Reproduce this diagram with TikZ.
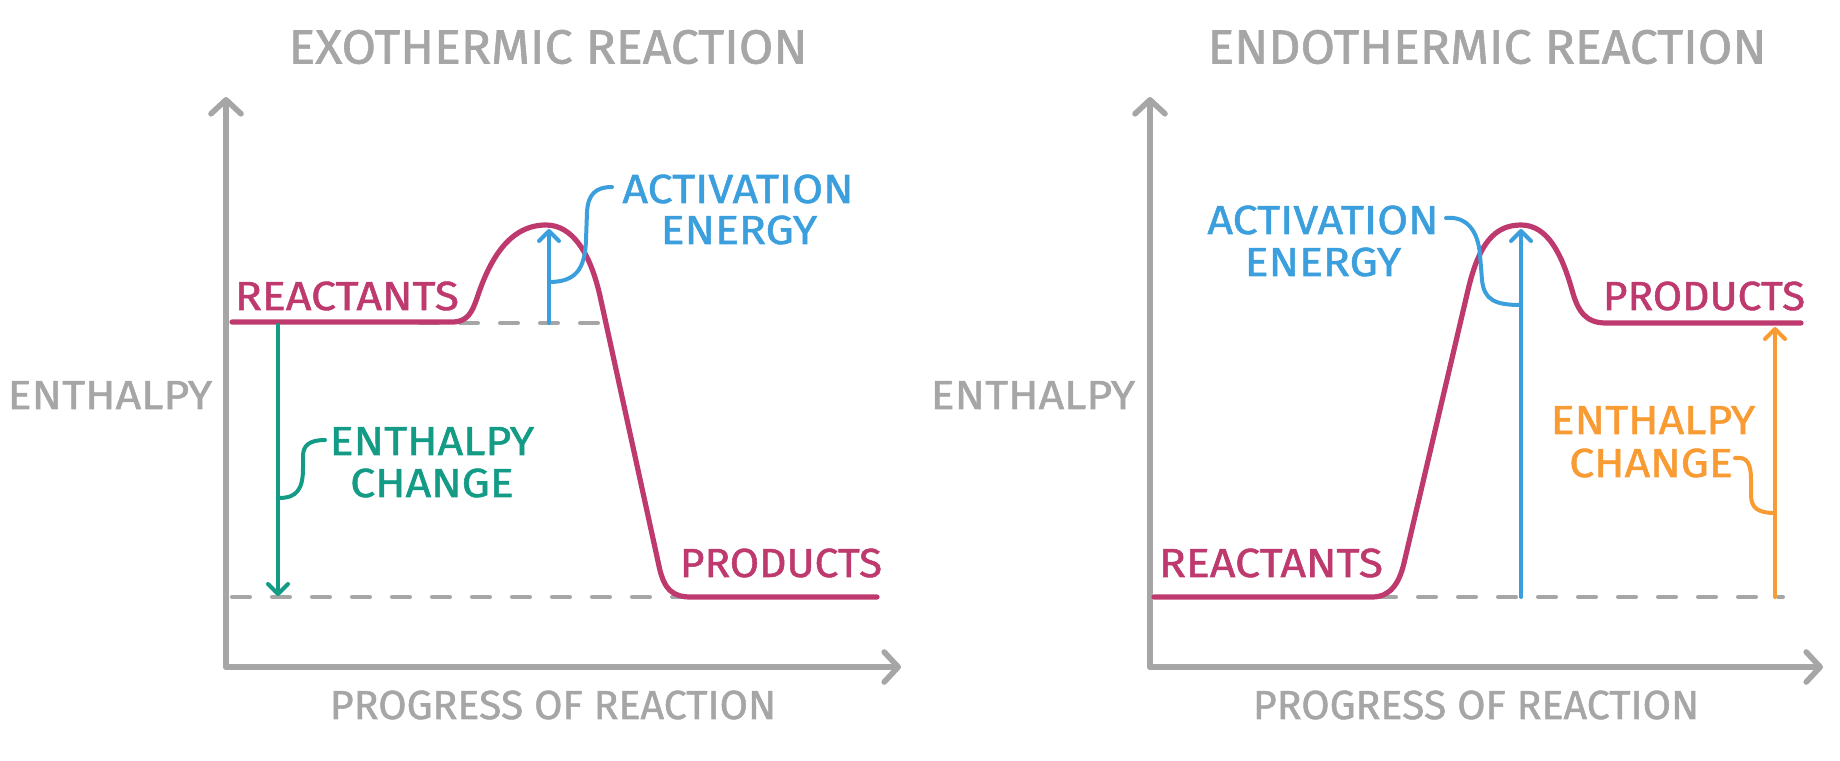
\documentclass[tikz,border=0pt]{standalone}
\usepackage{graphicx}
\usepackage{fontspec}
\setmainfont{Fira Sans}[FakeStretch=1.1, FakeBold=1.3]
\newfontfamily\titlefont{Fira Sans}[FakeStretch=1.04, FakeBold=1.3]
\usetikzlibrary{arrows.meta,bending}
\definecolor{axisgray}{HTML}{A6A6A6}
\definecolor{mag}{HTML}{BE3A6E}
\definecolor{aeblue}{HTML}{3A9FDC}
\definecolor{ehgreen}{HTML}{149B86}
\definecolor{ehorange}{HTML}{F89B33}
\begin{document}
\begin{tikzpicture}[x=0.5pt,y=-0.5pt,
  lbl/.style={inner sep=0pt, font=\fontsize{20.3}{22}\selectfont},
  ttl/.style={inner sep=0pt, text=axisgray, font=\titlefont\fontsize{24}{26}\selectfont},
  axislbl/.style={lbl, text=axisgray},
  curve/.style={draw=mag, line width=2.6pt, line cap=round, line join=round},
  axisline/.style={draw=axisgray, line width=2.8pt, line cap=round,
    -{Straight Barb[round,bend,length=7pt,width=15pt,line width=2.8pt]}},
  guide/.style={draw=axisgray, line width=2pt, line cap=round, dash pattern=on 9pt off 11pt},
  deltaarrow/.style={line width=2pt, line cap=round,
    -{Straight Barb[round,length=5pt,width=10pt,line width=2pt]}},
  bracket/.style={line width=2pt, line cap=round, line join=round}]
\useasboundingbox (0,0) rectangle (1840,760);

% ================= LEFT: EXOTHERMIC =================
\node[ttl] (titleL) at (548,47) {EXOTHERMIC REACTION};
\coordinate (oL) at (226,667);
\coordinate (yL) at (226,97);
\coordinate (xL) at (901,667);
\draw[axisline] (oL) -- (yL);
\draw[axisline] (oL) -- (xL);
\node[axislbl] (yLabL) at (110,395) {ENTHALPY};
\node[axislbl] (xLabL) at (553,705) {\scalebox{0.92}[1]{PROGRESS OF REACTION}};

% guide lines
\coordinate (gL1a) at (420,323);
\coordinate (gL1b) at (604,323);
\coordinate (gL2a) at (232,597);
\coordinate (gL2b) at (690,597);
\draw[guide] (gL1a) -- (gL1b);
\draw[guide] (gL2a) -- (gL2b);

% energy curve
\draw[curve] (232,322) -- (452,322)
  .. controls (467,322) and (472,313) .. (477,298)
  .. controls (489,262) and (508,225) .. (546,225)
  .. controls (572,225) and (590,252) .. (600,296)
  -- (659,566)
  .. controls (664,590) and (673,597) .. (691,597)
  -- (877,597);

\node[lbl, text=mag] (reactL) at (347,296) {REACTANTS};
\node[lbl, text=mag] (prodL) at (781,563) {\scalebox{0.95}[1]{PRODUCTS}};

% activation energy
\coordinate (aeL0) at (549,323);
\coordinate (aeL1) at (549,229);
\draw[deltaarrow, aeblue] (aeL0) -- (aeL1);
\node[lbl, text=aeblue] (aeLa) at (738,189) {ACTIVATION};
\node[lbl, text=aeblue] (aeLb) at (739,230) {ENERGY};
\coordinate (brL0) at (549,282);
\coordinate (brL1) at (612,187);
\draw[bracket, aeblue] (brL0) .. controls (575,282) and (585,270) .. (586,240)
  -- (587,212) .. controls (588,194) and (596,187) .. (brL1);

% enthalpy change
\coordinate (ehL0) at (278,325);
\coordinate (ehL1) at (278,596);
\draw[deltaarrow, ehgreen] (ehL0) -- (ehL1);
\node[lbl, text=ehgreen] (ehLa) at (432,441) {ENTHALPY};
\node[lbl, text=ehgreen] (ehLb) at (432,483) {CHANGE};
\coordinate (bgL0) at (279,498);
\coordinate (bgL1) at (325,440);
\draw[bracket, ehgreen] (bgL0) .. controls (297,498) and (303,489) .. (303,468)
  -- (303,456) .. controls (303,445) and (310,440) .. (bgL1);

% ================= RIGHT: ENDOTHERMIC =================
\node[ttl] (titleR) at (1487,47) {ENDOTHERMIC REACTION};
\coordinate (oR) at (1150,667);
\coordinate (yR) at (1150,97);
\coordinate (xR) at (1823,667);
\draw[axisline] (oR) -- (yR);
\draw[axisline] (oR) -- (xR);
\node[axislbl] (yLabR) at (1033,395) {ENTHALPY};
\node[axislbl] (xLabR) at (1476,705) {\scalebox{0.92}[1]{PROGRESS OF REACTION}};

\coordinate (gR1a) at (1378,597);
\coordinate (gR1b) at (1783,597);
\draw[guide] (gR1a) -- (gR1b);

\draw[curve] (1154,597) -- (1372,597)
  .. controls (1390,597) and (1399,584) .. (1404,563)
  -- (1468,290)
  .. controls (1479,243) and (1495,225) .. (1521,225)
  .. controls (1548,225) and (1562,255) .. (1572,290)
  .. controls (1578,312) and (1586,323) .. (1606,323)
  -- (1801,323);

\node[lbl, text=mag] (reactR) at (1271,563) {REACTANTS};
\node[lbl, text=mag] (prodR) at (1704,296) {\scalebox{0.95}[1]{PRODUCTS}};

% activation energy
\coordinate (aeR0) at (1521,597);
\coordinate (aeR1) at (1521,229);
\draw[deltaarrow, aeblue] (aeR0) -- (aeR1);
\node[lbl, text=aeblue] (aeRa) at (1323,220) {ACTIVATION};
\node[lbl, text=aeblue] (aeRb) at (1323,262) {ENERGY};
\coordinate (brR0) at (1446,218);
\coordinate (brR1) at (1521,305);
\draw[bracket, aeblue] (brR0) .. controls (1466,216) and (1478,230) .. (1480,255)
  -- (1482,280) .. controls (1484,300) and (1495,305) .. (brR1);

% enthalpy change
\coordinate (ehR0) at (1775,597);
\coordinate (ehR1) at (1775,327);
\draw[deltaarrow, ehorange] (ehR0) -- (ehR1);
\node[lbl, text=ehorange] (ehRa) at (1653,420) {ENTHALPY};
\node[lbl, text=ehorange] (ehRb) at (1651,463) {CHANGE};
\coordinate (boR0) at (1735,458);
\coordinate (boR1) at (1775,513);
\draw[bracket, ehorange] (boR0) .. controls (1748,456) and (1751,465) .. (1751,480)
  -- (1751,495) .. controls (1751,508) and (1758,513) .. (boR1);
\end{tikzpicture}
\end{document}
